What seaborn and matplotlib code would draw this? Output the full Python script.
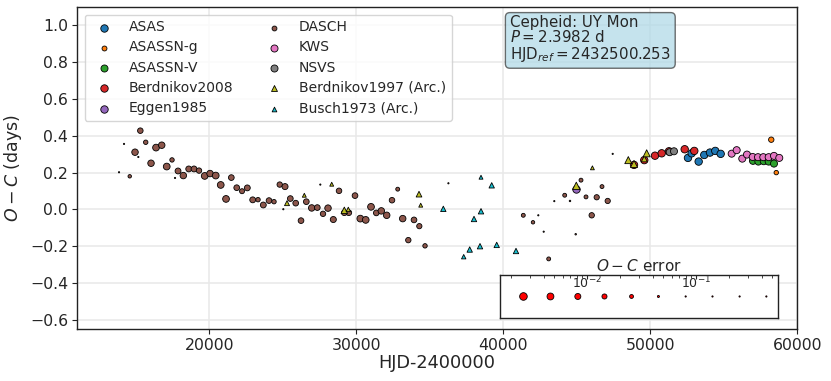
import numpy as np
import pandas as pd
import matplotlib
matplotlib.use("Agg")
import matplotlib.pyplot as plt
import seaborn as sns

# O-C data per survey: HJD-2400000, O-C (days), O-C error (days)
asas_hjd = [52565, 52815, 53292, 53673, 54061, 54422, 54789]
asas_oc = [0.280, 0.305, 0.260, 0.296, 0.309, 0.318, 0.302]
asas_err = [0.003, 0.003, 0.003, 0.003, 0.003, 0.003, 0.003]

asassn_g_hjd = [58231, 58571]
asassn_g_oc = [0.379, 0.200]
asassn_g_err = [0.012, 0.02]

asassn_v_hjd = [56987, 57354, 57720, 58055, 58416]
asassn_v_oc = [0.264, 0.260, 0.262, 0.260, 0.249]
asassn_v_err = [0.004, 0.004, 0.004, 0.004, 0.004]

berd08_hjd = [48893, 49593, 50321, 50776, 51273, 52341, 52994]
berd08_oc = [0.242, 0.268, 0.292, 0.305, 0.316, 0.327, 0.318]
berd08_err = [0.003, 0.003, 0.003, 0.003, 0.003, 0.003, 0.003]

eggen_hjd = [44926]
eggen_oc = [0.110]
eggen_err = [0.003]

dasch_hjd = [15306, 14197, 15673, 14945, 15170, 16374, 16762, 16034, 17462, 17102,
             13857, 14585, 17667, 17871, 18231, 18599, 18959, 19299, 19687, 20048,
             20435, 20776, 21497, 21136, 21864, 22225, 22585, 22952, 23313, 23674,
             24061, 24401, 24789, 25150, 25034, 25511, 25878, 26238, 26599, 26966,
             27347, 27551, 27735, 28075, 28436, 28824, 29184, 29490, 29912, 30273,
             30640, 31000, 31361, 31701, 32068, 32429, 32817, 33157, 33538, 33926,
             34287, 34675, 36266, 41361, 42382, 42021, 42749, 43089, 43470, 44178,
             44538, 44926, 45287, 45627, 46015, 46355, 46716, 47103, 47443]
dasch_oc = [0.428, 0.356, 0.365, 0.311, 0.285, 0.336, 0.349, 0.251, 0.269, 0.233,
            0.202, 0.180, 0.171, 0.209, 0.184, 0.220, 0.220, 0.211, 0.182, 0.195,
            0.184, 0.133, 0.173, 0.057, 0.118, 0.099, 0.117, 0.052, 0.053, 0.024,
            0.048, 0.042, 0.135, 0.124, 0.001, 0.059, 0.034, -0.061, 0.042, 0.008,
            0.010, 0.135, -0.024, 0.007, -0.055, 0.101, -0.018, -0.018, 0.075, -0.050,
            -0.057, 0.014, -0.019, -0.008, -0.032, 0.050, 0.110, -0.050, -0.167, -0.057,
            -0.091, -0.198, 0.142, -0.032, -0.032, -0.070, -0.121, -0.269, 0.045, 0.077,
            0.046, -0.135, 0.159, 0.068, -0.032, 0.066, 0.124, 0.046, 0.302]
dasch_err = [0.011, 0.08, 0.02, 0.006, 0.08, 0.005, 0.006, 0.006, 0.02, 0.005,
             0.1, 0.03, 0.08, 0.009, 0.006, 0.009, 0.009, 0.012, 0.005, 0.006,
             0.005, 0.005, 0.01, 0.005, 0.01, 0.015, 0.009, 0.009, 0.02, 0.009,
             0.01, 0.02, 0.012, 0.008, 0.1, 0.01, 0.01, 0.01, 0.01, 0.006,
             0.01, 0.1, 0.012, 0.006, 0.008, 0.011, 0.01, 0.01, 0.01, 0.005,
             0.005, 0.005, 0.01, 0.006, 0.006, 0.011, 0.025, 0.006, 0.012, 0.01,
             0.013, 0.02, 0.1, 0.025, 0.08, 0.03, 0.08, 0.025, 0.08, 0.025,
             0.05, 0.05, 0.025, 0.025, 0.012, 0.013, 0.025, 0.013, 0.1]

kws_hjd = [55537, 55878, 56259, 56579, 56967, 57327, 57688, 58055, 58416, 58776]
kws_oc = [0.303, 0.322, 0.276, 0.298, 0.285, 0.284, 0.284, 0.284, 0.291, 0.280]
kws_err = [0.004, 0.004, 0.004, 0.004, 0.004, 0.004, 0.004, 0.004, 0.004, 0.004]

nsvs_hjd = [51321, 51613]
nsvs_oc = [0.311, 0.316]
nsvs_err = [0.004, 0.004]

berd97_hjd = [25286, 26463, 28327, 29184, 29456, 34266, 34382, 44967, 46063,
              48505, 48893, 49593, 49755]
berd97_oc = [0.034, 0.077, 0.137, -0.005, 0.000, 0.083, 0.023, 0.128, 0.226,
             0.268, 0.247, 0.275, 0.305]
berd97_err = [0.015, 0.025, 0.025, 0.006, 0.02, 0.01, 0.025, 0.003, 0.025,
              0.004, 0.004, 0.008, 0.004]

busch_hjd = [35920, 38484, 39212, 38484, 38008, 37307, 37715, 38416, 39552, 40865]
busch_oc = [0.003, 0.175, 0.131, -0.010, -0.052, -0.257, -0.218, -0.200, -0.193, -0.226]
busch_err = [0.012, 0.025, 0.012, 0.012, 0.012, 0.02, 0.012, 0.012, 0.012, 0.012]

# error scale shown in the inset key
key_err = [0.0026, 0.0046, 0.0082, 0.0144, 0.0255, 0.045, 0.080, 0.141, 0.25, 0.44]

surveys = [
    ("ASAS", asas_hjd, asas_oc, asas_err, "o"),
    ("ASASSN-g", asassn_g_hjd, asassn_g_oc, asassn_g_err, "o"),
    ("ASASSN-V", asassn_v_hjd, asassn_v_oc, asassn_v_err, "o"),
    ("Berdnikov2008", berd08_hjd, berd08_oc, berd08_err, "o"),
    ("Eggen1985", eggen_hjd, eggen_oc, eggen_err, "o"),
    ("DASCH", dasch_hjd, dasch_oc, dasch_err, "o"),
    ("KWS", kws_hjd, kws_oc, kws_err, "o"),
    ("NSVS", nsvs_hjd, nsvs_oc, nsvs_err, "o"),
    ("Berdnikov1997 (Arc.)", berd97_hjd, berd97_oc, berd97_err, "^"),
    ("Busch1973 (Arc.)", busch_hjd, busch_oc, busch_err, "^"),
]


def err_to_size(err):
    # marker area shrinks with log error, floored for very noisy points
    err = np.asarray(err, dtype=float)
    area_px = np.clip(36 - 27 * (np.log10(err) + 2.58), 1.0, None)
    return 1.6 * area_px * (72 / 100) ** 2


sns.set_style("ticks")
plt.rcParams["font.family"] = ["DejaVu Sans"]

fig = plt.figure(figsize=(8.31, 3.81), dpi=100)
ax = fig.add_axes([0.0927, 0.1365, 0.8667, 0.845])

palette = sns.color_palette("tab10", 10)
for i, (name, hjd, oc, err, mk) in enumerate(surveys):
    df = pd.DataFrame({"hjd": hjd, "oc": oc})
    sns.scatterplot(data=df, x="hjd", y="oc", ax=ax, color=palette[i], marker=mk,
                    s=err_to_size(err), edgecolor="black", linewidth=0.6,
                    label=name, zorder=3 if mk == "o" else 4, legend=False)

ax.set_xlim(11000, 60000)
ax.set_ylim(-0.65, 1.1)
ax.set_xticks([20000, 30000, 40000, 50000, 60000])
ax.set_yticks(np.arange(-0.6, 1.01, 0.2))
ax.grid(True, color="#e8e8e8", linewidth=1.1, zorder=0)
ax.set_axisbelow(True)
for sp in ax.spines.values():
    sp.set_visible(True)
    sp.set_color("#222222")
    sp.set_linewidth(1.0)
ax.tick_params(labelsize=11.3, length=3.5, width=0.8, color="#222222", pad=3)
ax.set_xlabel("HJD-2400000", fontsize=12.8, labelpad=1)
ax.set_ylabel("$O-C$ (days)", fontsize=12.5, labelpad=4)

leg = ax.legend(loc="upper left", ncol=2, fontsize=10.0, labelspacing=0.45,
                columnspacing=1.9, handletextpad=0.8, borderaxespad=0.55,
                borderpad=0.4, frameon=True, framealpha=0.8, edgecolor="#cccccc")

ax.text(0.601, 0.975, "Cepheid: UY Mon\n$P = 2.3982$ d\nHJD$_{ref} = 2432500.253$",
        transform=ax.transAxes, fontsize=10.8, va="top", ha="left", linespacing=0.95,
        bbox=dict(boxstyle="round,pad=0.3", facecolor="#add8e6", alpha=0.7,
                  edgecolor="#333333"), zorder=6)

# inset key for marker size vs O-C error
ax_in = fig.add_axes([0.6017, 0.1654, 0.3345, 0.1129])
key_df = pd.DataFrame({"err": key_err, "y": np.zeros(len(key_err))})
sns.scatterplot(data=key_df, x="err", y="y", ax=ax_in, color="red", marker="o",
                s=err_to_size(key_err), edgecolor="black", linewidth=0.6, legend=False)
ax_in.set_xscale("log")
ax_in.set_xlim(10 ** -2.80, 10 ** -0.25)
ax_in.set_ylim(-1, 1)
ax_in.set_yticks([])
ax_in.set_xlabel("")
ax_in.set_ylabel("")
ax_in.xaxis.tick_top()
ax_in.tick_params(axis="x", which="both", direction="in", pad=-12, labelsize=9,
                  length=3)
ax_in.tick_params(axis="x", which="minor", length=2)
for sp in ax_in.spines.values():
    sp.set_visible(True)
    sp.set_color("#222222")
    sp.set_linewidth(1.0)
ax_in.set_title("$O-C$ error", fontsize=11, pad=3)

fig.savefig("out.png", dpi=100)
